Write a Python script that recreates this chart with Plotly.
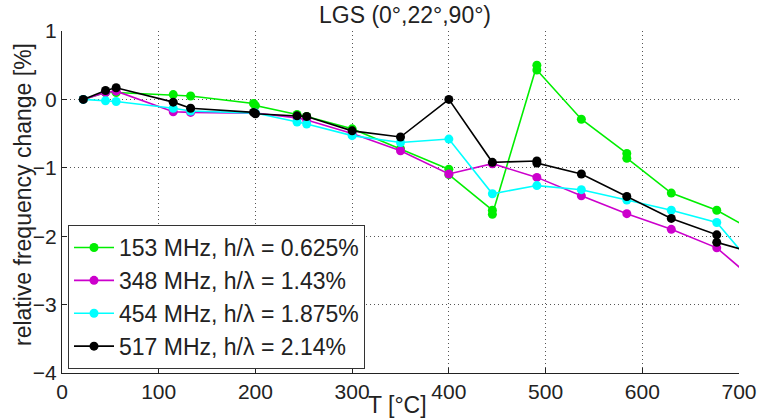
import plotly.graph_objects as go

T_153 = [22, 45, 56, 115, 133, 198, 200, 243, 253, 300, 350, 400, 400, 445, 445, 491, 491, 537, 584, 584, 630, 677, 710]
y_153 = [0, 0.1, 0.1, 0.07, 0.05, -0.06, -0.09, -0.22, -0.25, -0.43, -0.72, -1.02, -1.1, -1.62, -1.68, 0.5, 0.43, -0.29, -0.79, -0.86, -1.37, -1.62, -1.88]

T_348 = [22, 45, 56, 115, 133, 200, 243, 253, 300, 350, 400, 445, 491, 537, 584, 630, 677, 710]
y_348 = [0, 0.1, 0.12, -0.18, -0.19, -0.2, -0.27, -0.3, -0.5, -0.75, -1.09, -0.94, -1.14, -1.41, -1.67, -1.9, -2.17, -2.57]

T_454 = [22, 45, 56, 115, 133, 200, 243, 253, 300, 350, 400, 445, 491, 537, 584, 630, 677, 710]
y_454 = [0, -0.02, -0.03, -0.13, -0.17, -0.2, -0.33, -0.36, -0.53, -0.63, -0.58, -1.38, -1.26, -1.32, -1.47, -1.62, -1.8, -2.35]

T_517 = [22, 45, 56, 115, 133, 198, 200, 243, 253, 300, 350, 400, 445, 491, 491, 537, 584, 630, 677, 677, 710]
y_517 = [0, 0.13, 0.17, -0.04, -0.13, -0.19, -0.21, -0.24, -0.25, -0.46, -0.55, 0, -0.92, -0.9, -0.93, -1.09, -1.42, -1.74, -1.98, -2.09, -2.22]

names = ["153 MHz, h/λ = 0.625%", "348 MHz, h/λ = 1.43%", "454 MHz, h/λ = 1.875%", "517 MHz, h/λ = 2.14%"]
colors = ["#00ee00", "#cc00cc", "#00ffff", "#000000"]
series = [(T_153, y_153), (T_348, y_348), (T_454, y_454), (T_517, y_517)]

x_ticks = [0, 100, 200, 300, 400, 500, 600, 700]
y_ticks = [-4, -3, -2, -1, 0, 1]

fig = go.Figure()
for i, ((xs, ys), n, c) in enumerate(zip(series, names, colors)):
    fig.add_trace(go.Scatter(
        x=xs, y=ys, name=n, mode="lines+markers",
        line=dict(color=c, width=1.6),
        marker=dict(color=c, size=9),
    ))

fnt = "Liberation Sans, Arial, sans-serif"
fig.update_layout(
    width=759, height=419,
    margin=dict(l=62, r=20, t=31, b=46),
    plot_bgcolor="white", paper_bgcolor="white",
    font=dict(family=fnt, size=21, color="#222"),
    title=dict(text="LGS (0°,22°,90°)", x=405 / 759, xanchor="center", xref="container",
               y=1 - 15 / 419, yanchor="middle", yref="container",
               font=dict(size=23, color="#222")),
    showlegend=True,
    legend=dict(x=(68 - 62) / 677, y=(373 - 225) / 342, xanchor="left", yanchor="top",
                bordercolor="#333", borderwidth=1, bgcolor="white",
                font=dict(size=23), itemwidth=40),
    xaxis=dict(range=[0, 700], tickvals=x_ticks, ticks="inside", ticklen=5, tickcolor="#222",
               showline=True, linecolor="#222", linewidth=1.2, mirror=False, automargin=False,
               showgrid=True, gridcolor="#555", griddash="1px,3px", gridwidth=1, zeroline=False),
    yaxis=dict(range=[-4, 1], tickvals=y_ticks, ticks="inside", ticklen=5, tickcolor="#222",
               showline=True, linecolor="#222", linewidth=1.2, mirror=False, automargin=False,
               showgrid=True, gridcolor="#555", griddash="1px,3px", gridwidth=1, zeroline=False),
)
fig.add_annotation(text="relative frequency change [%]", xref="paper", yref="paper",
                   x=(23 - 62) / 677, y=(373 - 195) / 342, xanchor="center", yanchor="middle",
                   textangle=-90, showarrow=False, font=dict(size=23))
fig.add_annotation(text="T [°C]", xref="paper", yref="paper", x=(397 - 62) / 677,
                   y=-(405 - 373) / 342, xanchor="center", yanchor="middle",
                   showarrow=False, font=dict(size=23))
fig.write_html("out.html", config={"displayModeBar": False},
               post_script="document.body.style.margin='0';document.body.style.overflow='hidden';")
